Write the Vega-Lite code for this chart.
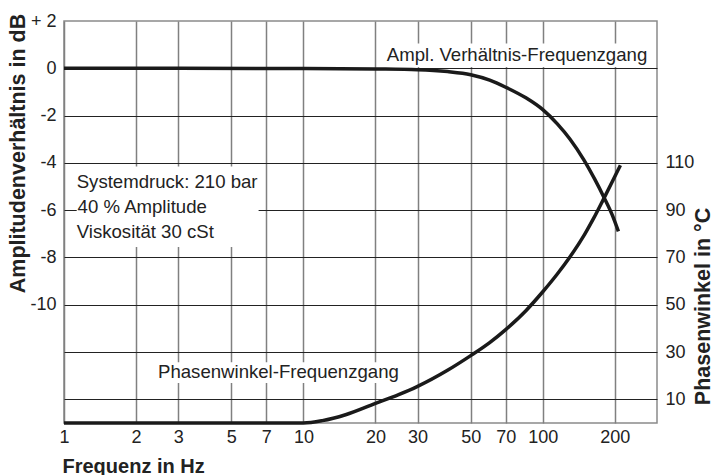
{
  "$schema": "https://vega.github.io/schema/vega-lite/v6.json",
  "width": 593,
  "height": 402,
  "autosize": {"type": "none"},
  "padding": {"left": 64, "top": 21, "right": 58, "bottom": 52},
  "background": "white",
  "config": {
    "view": {"stroke": "#8a8a8a", "strokeWidth": 1.5},
    "font": "Liberation Sans",
    "axis": {"labelFont": "Liberation Sans", "titleFont": "Liberation Sans"}
  },
  "datasets": {
    "amp": [
      {"f": 1, "db": 0}, {"f": 3, "db": 0}, {"f": 10, "db": -0.01}, {"f": 20, "db": -0.03},
      {"f": 30, "db": -0.06}, {"f": 40, "db": -0.14}, {"f": 50, "db": -0.27}, {"f": 60, "db": -0.5},
      {"f": 70, "db": -0.8}, {"f": 85, "db": -1.25}, {"f": 100, "db": -1.75}, {"f": 115, "db": -2.35},
      {"f": 130, "db": -3.0}, {"f": 148, "db": -3.85}, {"f": 165, "db": -4.7}, {"f": 180, "db": -5.45},
      {"f": 195, "db": -6.2}, {"f": 207, "db": -6.9}
    ],
    "phase": [
      {"f": 1, "phase": 0}, {"f": 10, "phase": 0}, {"f": 12, "phase": 1.0}, {"f": 15, "phase": 3.5},
      {"f": 20, "phase": 8.3}, {"f": 25, "phase": 12}, {"f": 30, "phase": 15.5}, {"f": 40, "phase": 22.3},
      {"f": 50, "phase": 28.5}, {"f": 60, "phase": 34}, {"f": 70, "phase": 39.5}, {"f": 85, "phase": 47.5},
      {"f": 100, "phase": 55.5}, {"f": 115, "phase": 63}, {"f": 130, "phase": 70.3}, {"f": 150, "phase": 80},
      {"f": 163, "phase": 86.5}, {"f": 180, "phase": 95}, {"f": 195, "phase": 102}, {"f": 211, "phase": 109}
    ],
    "boxes": [
      {"f": 1.13, "f2": 6.5, "d1": -4.15, "d2": -7.56},
      {"f": 21, "f2": 294, "d1": 0.06, "d2": 1.05},
      {"f": 2.4, "f2": 26.5, "d1": -12.43, "d2": -13.31}
    ],
    "notes": [
      {"f": 1.13, "db": -5.07, "label": "Systemdruck: 210 bar"},
      {"f": 1.14, "db": -6.13, "label": "40 % Amplitude"},
      {"f": 1.13, "db": -7.18, "label": "Viskosität 30 cSt"},
      {"f": 22.3, "db": 0.31, "label": "Ampl. Verhältnis-Frequenzgang"},
      {"f": 2.47, "db": -13.1, "label": "Phasenwinkel-Frequenzgang"}
    ]
  },
  "encoding": {
    "x": {
      "field": "f",
      "type": "quantitative",
      "scale": {"type": "log", "domain": [1, 300], "nice": false},
      "axis": {
        "values": [1, 2, 3, 5, 7, 10, 20, 30, 50, 70, 100, 200],
        "format": "d",
        "grid": true,
        "gridColor": "#808080",
        "gridWidth": 1.5,
        "ticks": false,
        "domain": false,
        "labelFontSize": 18,
        "labelColor": "#222222",
        "labelPadding": 5,
        "labelFlush": false,
        "labelOverlap": false,
        "title": "Frequenz in Hz",
        "titleFontSize": 20,
        "titleFontWeight": "bold",
        "titleColor": "#222222",
        "titleX": -2,
        "titleY": 49,
        "titleAlign": "left",
        "titleBaseline": "alphabetic"
      }
    }
  },
  "layer": [
    {
      "data": {"name": "amp"},
      "mark": {"type": "line", "interpolate": "monotone", "color": "#1a1a1a", "strokeWidth": 3.5, "clip": false},
      "encoding": {
        "y": {
          "field": "db",
          "type": "quantitative",
          "scale": {"domain": [-15, 2], "nice": false, "zero": false},
          "axis": {
            "orient": "left",
            "values": [2, 0, -2, -4, -6, -8, -10, -12, -14],
            "labelExpr": "datum.value < -10 ? '' : (datum.value == 2 ? '+ 2' : '' + datum.value)",
            "grid": true,
            "gridColor": {"condition": {"test": "datum.value == 2", "value": "transparent"}, "value": "#222222"},
            "gridWidth": 1.1,
            "ticks": false,
            "domain": false,
            "labelFontSize": 18,
            "labelColor": "#222222",
            "labelPadding": 8,
            "title": "Amplitudenverhältnis in dB",
            "titleFontSize": 21.5,
            "titleFontWeight": "bold",
            "titleColor": "#222222",
            "titleAngle": 270,
            "titleX": -45.5,
            "titleY": 132,
            "titleAlign": "center",
            "titleBaseline": "middle"
          }
        }
      }
    },
    {
      "data": {"name": "phase"},
      "mark": {"type": "line", "interpolate": "monotone", "color": "#1a1a1a", "strokeWidth": 3.5, "clip": false},
      "encoding": {
        "y": {
          "field": "phase",
          "type": "quantitative",
          "scale": {"domain": [0, 170], "nice": false, "zero": false},
          "axis": {
            "orient": "right",
            "values": [10, 30, 50, 70, 90, 110],
            "grid": false,
            "ticks": false,
            "domain": false,
            "labelFontSize": 18,
            "labelColor": "#222222",
            "labelPadding": 8,
            "title": "Phasenwinkel in °C",
            "titleFontSize": 21.5,
            "titleFontWeight": "bold",
            "titleColor": "#222222",
            "titleAngle": 270,
            "titleX": 46,
            "titleY": 285,
            "titleAlign": "center",
            "titleBaseline": "middle"
          }
        }
      }
    },
    {
      "data": {"name": "boxes"},
      "mark": {"type": "rect", "fill": "white", "stroke": null},
      "encoding": {
        "x2": {"field": "f2"},
        "y": {"field": "d1", "type": "quantitative", "scale": {"domain": [-15, 2], "nice": false, "zero": false}, "axis": null},
        "y2": {"field": "d2"}
      }
    },
    {
      "data": {"name": "notes"},
      "mark": {"type": "text", "align": "left", "baseline": "alphabetic", "fontSize": 18.6, "color": "#222222", "font": "Liberation Sans"},
      "encoding": {
        "y": {"field": "db", "type": "quantitative", "scale": {"domain": [-15, 2], "nice": false, "zero": false}, "axis": null},
        "text": {"field": "label"}
      }
    }
  ],
  "resolve": {"scale": {"y": "independent"}}
}
